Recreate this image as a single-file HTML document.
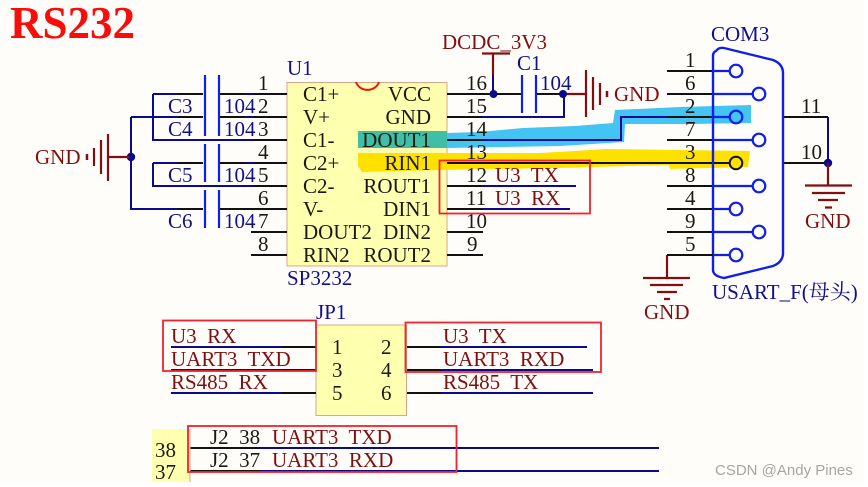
<!DOCTYPE html>
<html><head><meta charset="utf-8"><style>
html,body{margin:0;padding:0;background:#fff;width:868px;height:487px;overflow:hidden}
svg{display:block}
text{font-family:"Liberation Serif","Noto Serif CJK SC",serif;font-size:21px;white-space:pre}
.k{fill:#1a1a12}.b{fill:#10108a}.r{fill:#7f0f10}
.bk{stroke:#111;stroke-width:2;fill:none}
.nv{stroke:#0a0a8c;stroke-width:2;fill:none}
.cp{stroke:#0f1fe8;stroke-width:2.200;fill:none}
.dr{stroke:#7f0f10;stroke-width:2.200;fill:none}
.pn{stroke:#0f1fe8;stroke-width:2.200;fill:#fffdf9}
</style></head><body>
<svg width="868" height="487" viewBox="0 0 868 487" xmlns="http://www.w3.org/2000/svg">
<rect x="0" y="0" width="864" height="484" fill="#fffdf9"/>
<text x="10" y="38" style="font-size:45px;font-weight:bold;fill:#f80c0c">RS232</text>

<!-- IC -->
<rect x="287" y="82.500" width="160" height="183.500" fill="#ffffb0" stroke="#dba58c" stroke-width="1"/>
<path d="M356 82 A12 11 0 0 0 379 82" fill="none" stroke="#f01010" stroke-width="2"/>

<!-- highlights -->
<path d="M447 133 L480 132 L523 128 L575 126 L613 123 L615 110 L680 107 L751 105 L751 123 L690 124 L625 124 L624 142 L560 146 L447 148Z" fill="#43c4f3"/>
<rect x="358" y="131" width="89" height="17" fill="#3fbfa5"/>
<path d="M358 153 L447 153 L540 153 L607 149 L750 151 L748 167 L670 169 L669 165 L556 168 L440 170 L362 172 L358 166Z" fill="#ffe100"/>

<!-- wires -->
<g class="nv">
<path d="M153 94H178M245 94H254"/>
<path d="M131 117H178M245 117H254"/>
<path d="M153 94V140H254"/>
<path d="M153 163H178M245 163H254"/>
<path d="M153 163V186H254"/>
<path d="M131 117V209H178"/>
<path d="M482 117H564V94"/>
<path d="M482 186H576M482 209H570"/>
<path d="M482 140H621V117H680"/>
</g>
<g class="bk">
<path d="M178 94H203M178 117H203M178 163H203M178 209H203"/>
<path d="M220 94H245M220 117H245M220 163H245M220 209H287"/>
<path d="M254 94H287M254 117H287M254 140H287M254 163H287M254 186H287M251 232H287M251 255H287"/>
<path d="M447 94H522M536 94H564"/>
<path d="M447 117H482M447 140H482M447 186H482M447 209H482M447 232H483M447 255H483"/>
</g>
<circle cx="131" cy="157" r="4.200" fill="#0a0a8c"/>
<g class="cp">
<path d="M205 75V136M219 75V136M205 144V182M219 144V182M205 190V228M219 190V228"/>
<path d="M522 75V113M536 75V113"/>
</g>
<!-- left GND -->
<g class="dr">
<path d="M130 157H108M108 134V181M101 140V174M94 148V166"/>
<path d="M87 154V160" stroke-width="2.500"/>
</g>
<!-- right of C1 GND -->
<g class="dr">
<path d="M493 54V75"/>
<path d="M482 53.500H510"/>
<path d="M564 94H586M586 70V117M593 77V110M600 83V105"/>
<path d="M607 91V97" stroke-width="2.500"/>
</g>
<path d="M493 75V94" class="nv"/>
<circle cx="493.500" cy="94" r="4" fill="#0a0a8c"/>
<circle cx="563" cy="94" r="4" fill="#0a0a8c"/>

<!-- COM wires -->
<g class="bk">
<path d="M667 71H713M667 94H713M667 117H713M667 140H713M667 163H713M667 186H713M667 209H713M667 232H713M667 255H713"/>
<path d="M447 163H730"/>
<path d="M783 117H828M783 163H828"/>
</g>
<path d="M716 51Q719 47 724 48L773 60Q783 64 783 73V253Q783 262 773 266L724 278Q713 276 713 270V56Q713 52 716 51Z" fill="none" stroke="#0f1fe8" stroke-width="2.400"/>
<g class="cp">
<path d="M713 71H730M713 94H753M713 117H730M713 140H753M713 186H753M713 209H730M713 232H753M713 255H730"/>
</g>
<g class="pn">
<circle cx="736" cy="71" r="6.300"/><circle cx="759" cy="94" r="6.300"/>
<circle cx="736" cy="117" r="6.300" fill="#43c4f3"/><circle cx="759" cy="140" r="6.300"/>
<circle cx="759" cy="186" r="6.300"/><circle cx="736" cy="209" r="6.300"/>
<circle cx="759" cy="232" r="6.300"/><circle cx="736" cy="255" r="6.300"/>
</g>
<circle cx="736" cy="163" r="6.300" fill="#ffe100" stroke="#111" stroke-width="2"/>
<path d="M828 117V163" class="nv"/>
<circle cx="828" cy="163" r="4.200" fill="#0a0a8c"/>
<g class="dr">
<path d="M828 163V185M805 185.500H852M812 193H845M818 200H838M825 207.500H832"/>
<path d="M667 255V278M643 278H690M650 285H683M657 292H677M664 299H670"/>
</g>
<path d="M667 255H713" class="bk"/>

<!-- JP1 -->
<rect x="316" y="325" width="90.500" height="90.500" fill="#ffffb0" stroke="#dba58c" stroke-width="1"/>
<g class="nv">
<path d="M171 347H282M171 370H282M171 393H282"/>
<path d="M441 347H587M441 370H593M441 393H593"/>
<path d="M260 448H659M260 471H659"/>
</g>
<g class="bk">
<path d="M282 347H316M282 370H316M282 393H316M407 347H441M407 370H441M407 393H441"/>
<path d="M190 448H260M190 471H260"/>
</g>
<!-- J2 -->
<rect x="152" y="429" width="38" height="53" fill="#ffffb0"/>
<path d="M190 429V482" stroke="#dba58c" stroke-width="1"/>

<!-- Labels -->
<g class="k">
<text x="258" y="90">1</text><text x="258" y="113">2</text><text x="258" y="136">3</text><text x="258" y="159">4</text><text x="258" y="182">5</text><text x="258" y="205">6</text><text x="258" y="228">7</text><text x="258" y="251">8</text>
<text x="303" y="101">C1+</text><text x="303" y="124">V+</text><text x="303" y="147">C1-</text><text x="303" y="170">C2+</text><text x="303" y="193">C2-</text><text x="303" y="216">V-</text><text x="303" y="239">DOUT2</text><text x="303" y="262">RIN2</text>
<text x="431" y="101" text-anchor="end">VCC</text><text x="431" y="124" text-anchor="end">GND</text><text x="431" y="147" text-anchor="end">DOUT1</text><text x="431" y="170" text-anchor="end">RIN1</text><text x="431" y="193" text-anchor="end">ROUT1</text><text x="431" y="216" text-anchor="end">DIN1</text><text x="431" y="239" text-anchor="end">DIN2</text><text x="431" y="262" text-anchor="end">ROUT2</text>
<text x="466" y="90">16</text><text x="466" y="113">15</text><text x="466" y="136">14</text><text x="466" y="159">13</text><text x="466" y="182">12</text><text x="466" y="205">11</text><text x="466" y="228">10</text><text x="467" y="251">9</text>
<text x="685" y="67">1</text><text x="685" y="90">6</text><text x="685" y="113">2</text><text x="685" y="136">7</text><text x="685" y="159">3</text><text x="685" y="182">8</text><text x="685" y="205">4</text><text x="685" y="228">9</text><text x="685" y="251">5</text>
<text x="801" y="113">11</text><text x="801" y="159">10</text>
<text x="332" y="354">1</text><text x="381" y="354">2</text><text x="332" y="377">3</text><text x="381" y="377">4</text><text x="332" y="400">5</text><text x="381" y="400">6</text>
<text x="155" y="457">38</text><text x="155" y="479">37</text>
<text x="210" y="444">J2  38</text><text x="210" y="467">J2  37</text>
</g>
<g class="b">
<text x="287" y="75">U1</text><text x="287" y="285">SP3232</text>
<text x="168" y="113">C3</text><text x="168" y="136">C4</text><text x="168" y="182">C5</text><text x="168" y="228">C6</text>
<text x="224" y="113">104</text><text x="224" y="136">104</text><text x="224" y="182">104</text><text x="224" y="228">104</text>
<text x="517" y="70">C1</text><text x="540" y="90">104</text>
<text x="711" y="41">COM3</text>
<text x="712" y="299">USART_F(母头)</text>
<text x="316" y="319">JP1</text>
</g>
<g class="r">
<text x="35" y="164">GND</text>
<text x="442" y="49">DCDC_3V3</text>
<text x="614" y="101">GND</text>
<text x="805" y="228">GND</text>
<text x="644" y="319">GND</text>
<text x="495" y="182">U3  TX</text><text x="495" y="205">U3  RX</text>
<text x="171" y="343">U3  RX</text><text x="171" y="366">UART3  TXD</text><text x="171" y="389">RS485  RX</text>
<text x="443" y="343">U3  TX</text><text x="443" y="366">UART3  RXD</text><text x="443" y="389">RS485  TX</text>
<text x="272" y="444">UART3  TXD</text><text x="272" y="467">UART3  RXD</text>
</g>

<!-- red boxes -->
<g fill="none" stroke="#f2222e" stroke-width="1.800">
<rect x="439.500" y="160.500" width="150.500" height="53"/>
<rect x="163" y="320.500" width="153" height="50.500"/>
<rect x="405.500" y="322.500" width="195.500" height="49.500"/>
<rect x="188" y="426" width="268.500" height="46"/>
</g>
<text x="715" y="475" style="font-family:'Liberation Sans',sans-serif;font-size:15px;fill:#a5a5a5">CSDN @Andy Pines</text>
</svg>
</body></html>
